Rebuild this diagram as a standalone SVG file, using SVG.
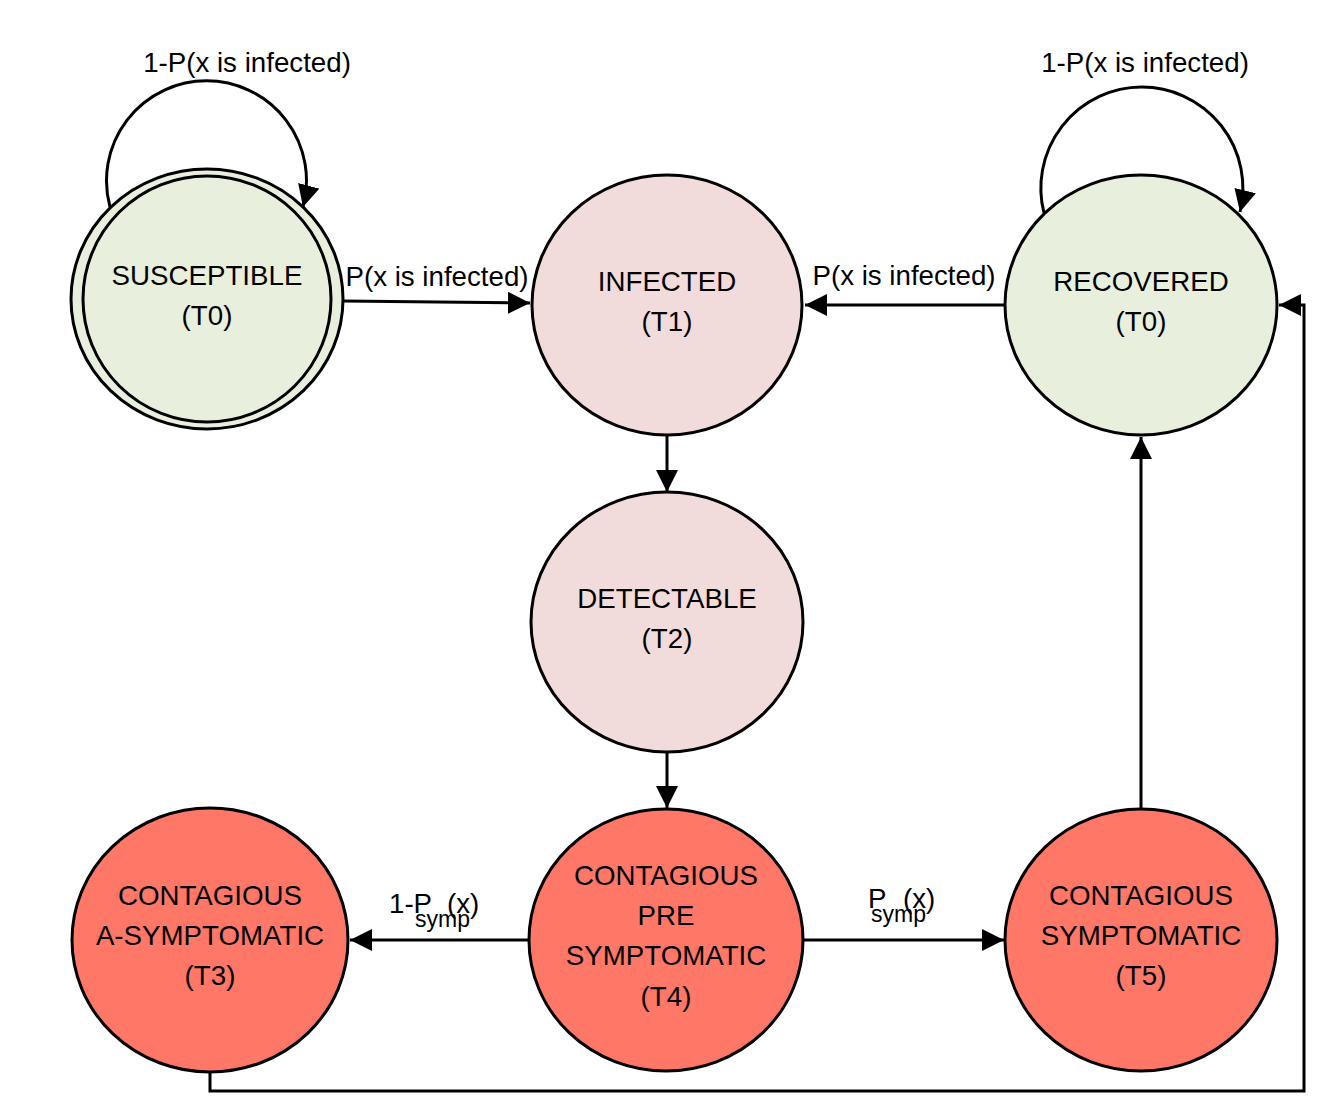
<svg xmlns="http://www.w3.org/2000/svg" width="1327" height="1113" viewBox="0 0 1327 1113">
<defs>
<marker id="arr" markerUnits="userSpaceOnUse" markerWidth="24" markerHeight="24" refX="22" refY="11" orient="auto">
<path d="M0,0 L22,11 L0,22 z" fill="#000"/>
</marker>
<style>
.node{stroke:#000;stroke-width:3}
.g{fill:#e9efdd}
.p{fill:#f2dcdb}
.r{fill:#ff7766}
text{font-family:"Liberation Sans",Arial,sans-serif;font-size:27.7px;fill:#000;text-anchor:middle}
.lbl{text-anchor:start}
.sub{font-size:23px;text-anchor:start}
.e{fill:none;stroke:#000;stroke-width:3}
</style>
</defs>
<rect width="1327" height="1113" fill="#fff"/>
<g id="connectors">
<path class="e" d="M110 207 A100 100 0 1 1 303 207" marker-end="url(#arr)"/>
<path class="e" d="M1044 213 A101 101 0 1 1 1240 212" marker-end="url(#arr)"/>
<path class="e" d="M343 301 L530 303" marker-end="url(#arr)"/>
<path class="e" d="M1005 305 L805 305" marker-end="url(#arr)"/>
<path class="e" d="M667 436 L667 492" marker-end="url(#arr)"/>
<path class="e" d="M667 753 L667 808" marker-end="url(#arr)"/>
<path class="e" d="M529 940 L350 940" marker-end="url(#arr)"/>
<path class="e" d="M803 940 L1004 940" marker-end="url(#arr)"/>
<path class="e" d="M1141 809 L1141 437" marker-end="url(#arr)"/>
<path class="e" d="M210 1072 L210 1091 L1304 1091 L1304 305 L1279 305" marker-end="url(#arr)" stroke-width="3.5"/>
<text x="247" y="72">1-P(x is infected)</text>
<text x="1145" y="72">1-P(x is infected)</text>
<text x="437" y="286">P(x is infected)</text>
<text x="904" y="285">P(x is infected)</text>
<text class="lbl" x="389" y="913">1-P</text>
<text class="sub" x="415" y="927">symp</text>
<text class="lbl" x="447" y="913">(x)</text>
<text class="lbl" x="868" y="908">P</text>
<text class="sub" x="871" y="922">symp</text>
<text class="lbl" x="903" y="908">(x)</text>
</g>
<g id="susceptible">
<ellipse class="node g" cx="207" cy="299" rx="136" ry="130"/>
<ellipse class="node g" cx="207" cy="299" rx="124" ry="123"/>
<text x="207" y="285">SUSCEPTIBLE</text>
<text x="207" y="325">(T0)</text>
</g>
<g id="infected">
<ellipse class="node p" cx="667" cy="305" rx="135" ry="130"/>
<text x="667" y="291">INFECTED</text>
<text x="667" y="331">(T1)</text>
</g>
<g id="recovered">
<ellipse class="node g" cx="1141" cy="305" rx="136" ry="130"/>
<text x="1141" y="291">RECOVERED</text>
<text x="1141" y="331">(T0)</text>
</g>
<g id="detectable">
<ellipse class="node p" cx="667" cy="622" rx="136" ry="130"/>
<text x="667" y="608">DETECTABLE</text>
<text x="667" y="648">(T2)</text>
</g>
<g id="asymptomatic">
<ellipse class="node r" cx="210" cy="940" rx="138" ry="132"/>
<text x="210" y="905">CONTAGIOUS</text>
<text x="210" y="945">A-SYMPTOMATIC</text>
<text x="210" y="985">(T3)</text>
</g>
<g id="presymptomatic">
<ellipse class="node r" cx="666" cy="940" rx="137" ry="131"/>
<text x="666" y="885">CONTAGIOUS</text>
<text x="666" y="925">PRE</text>
<text x="666" y="965">SYMPTOMATIC</text>
<text x="666" y="1006">(T4)</text>
</g>
<g id="symptomatic">
<ellipse class="node r" cx="1141" cy="940" rx="136" ry="131"/>
<text x="1141" y="905">CONTAGIOUS</text>
<text x="1141" y="945">SYMPTOMATIC</text>
<text x="1141" y="985">(T5)</text>
</g>
</svg>
